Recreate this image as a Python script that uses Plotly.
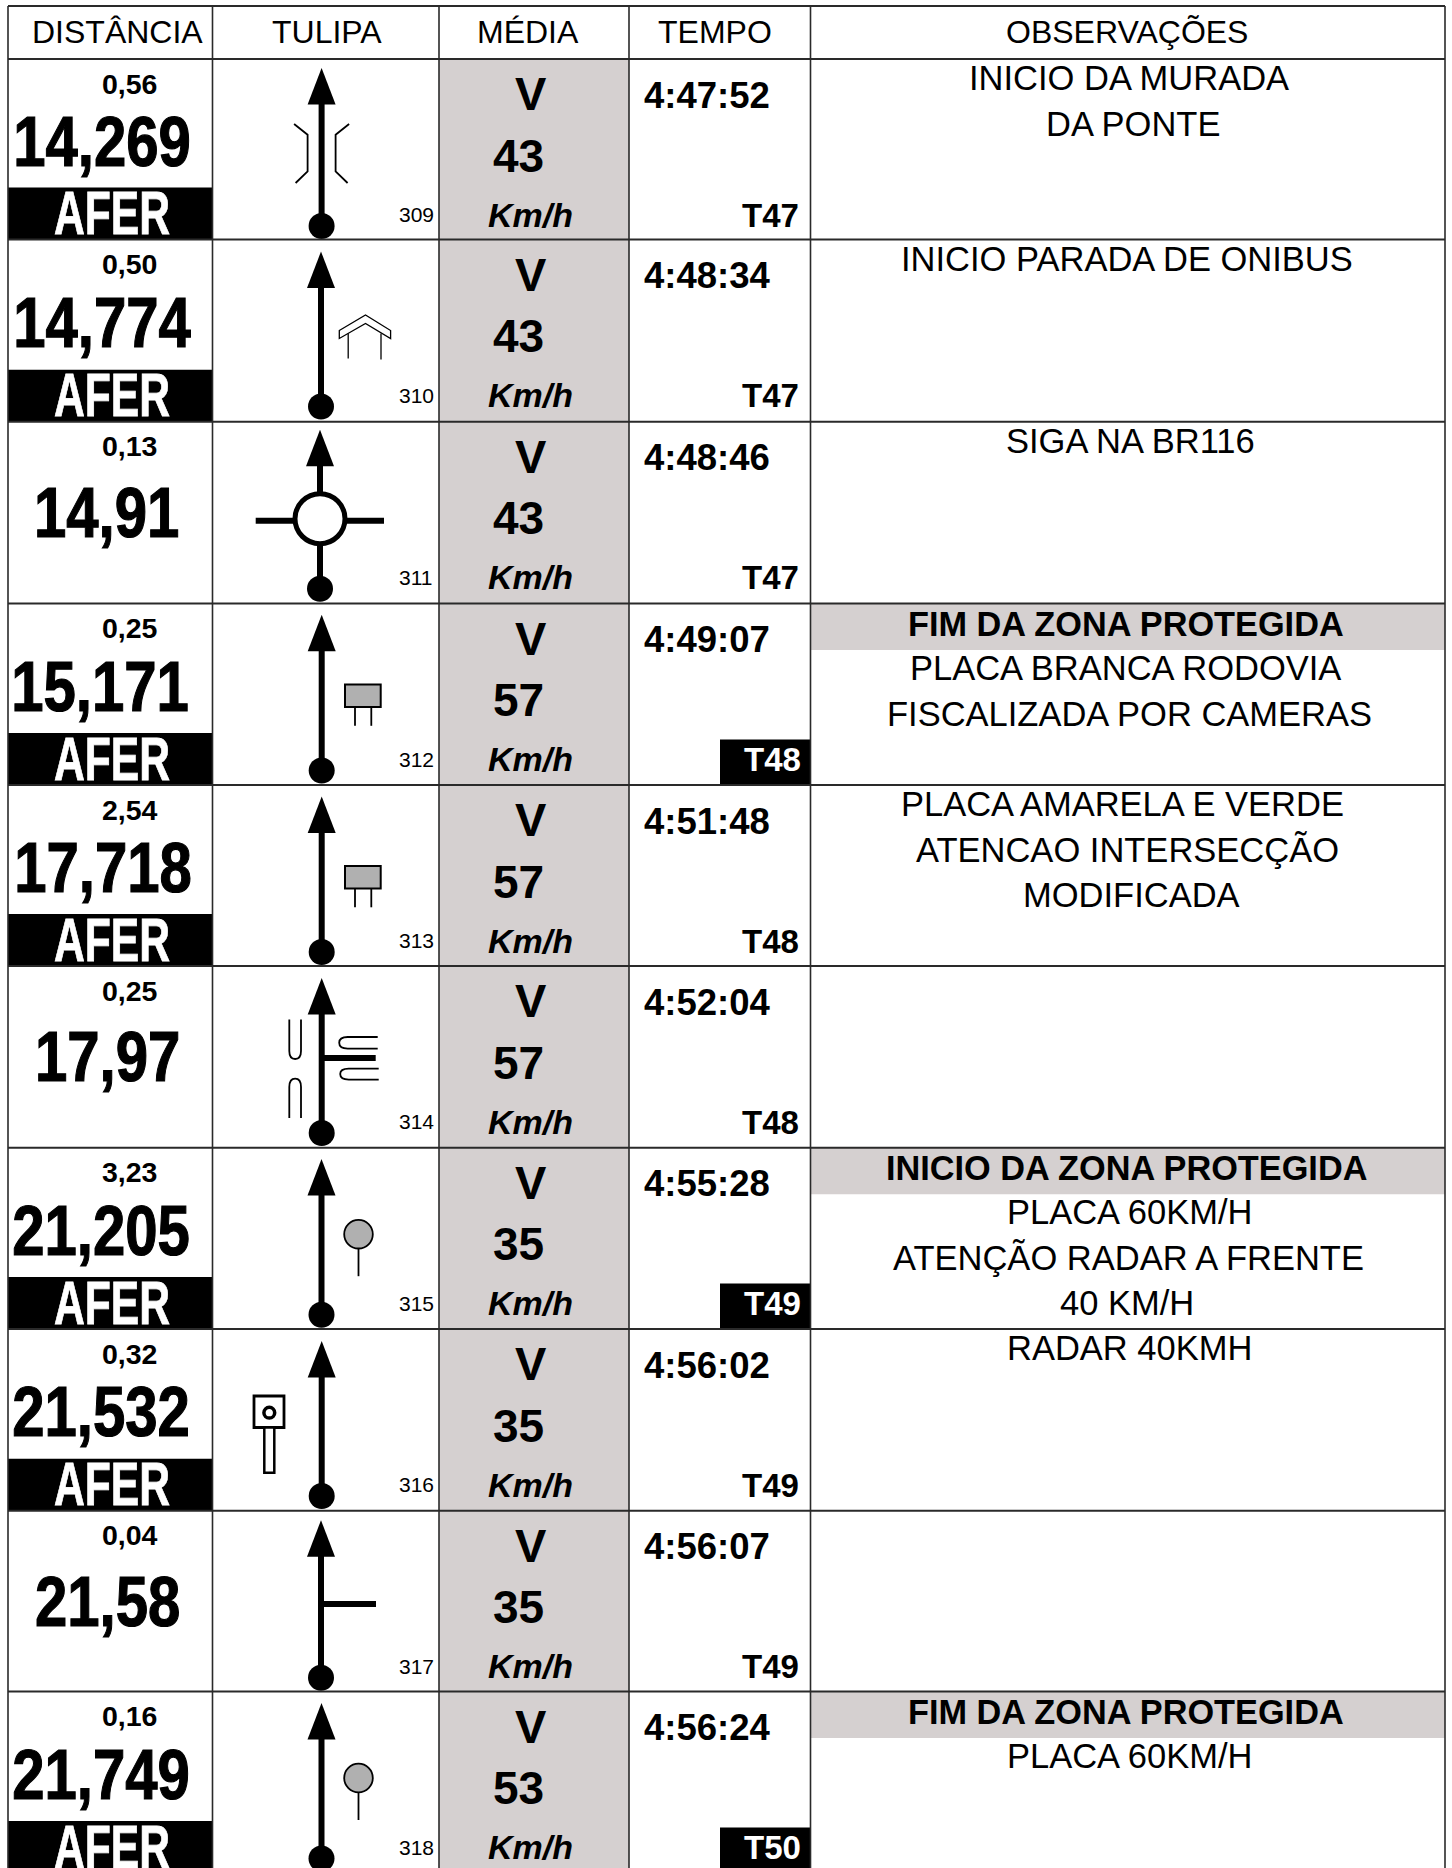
import plotly.graph_objects as go

# ---------- data ----------
HEADERS = ["DISTÂNCIA", "TULIPA", "MÉDIA", "TEMPO", "OBSERVAÇÕES"]
PARTIALS = ["0,56", "0,50", "0,13", "0,25", "2,54", "0,25", "3,23", "0,32", "0,04", "0,16"]
TOTALS = ["14,269", "14,774", "14,91", "15,171", "17,718", "17,97", "21,205", "21,532", "21,58", "21,749"]
AFER = [True, True, False, True, True, False, True, True, False, True]
TULIP_IDS = ["309", "310", "311", "312", "313", "314", "315", "316", "317", "318"]
TULIP_KINDS = ["bridge", "house", "roundabout", "plate", "plate", "turns", "sign", "radar", "branch", "sign"]
SPEEDS = ["43", "43", "43", "57", "57", "57", "35", "35", "35", "53"]
TIMES = ["4:47:52", "4:48:34", "4:48:46", "4:49:07", "4:51:48", "4:52:04", "4:55:28", "4:56:02", "4:56:07", "4:56:24"]
TRECHOS = ["T47", "T47", "T47", "T48", "T48", "T48", "T49", "T49", "T49", "T50"]
TRECHO_NEW = [False, False, False, True, False, False, True, False, False, True]
BANNERS = [None, None, None, "FIM DA ZONA PROTEGIDA", None, None, "INICIO DA ZONA PROTEGIDA", None, None, "FIM DA ZONA PROTEGIDA"]
OBS = [
    ["INICIO DA MURADA", "DA PONTE"],
    ["INICIO PARADA DE ONIBUS"],
    ["SIGA NA BR116"],
    ["PLACA BRANCA RODOVIA", "FISCALIZADA POR CAMERAS"],
    ["PLACA AMARELA E VERDE", "ATENCAO INTERSECÇÃO", "MODIFICADA"],
    [],
    ["PLACA 60KM/H", "ATENÇÃO RADAR A FRENTE", "40 KM/H"],
    ["RADAR 40KMH"],
    [],
    ["PLACA 60KM/H"],
]

# ---------- layout ----------
W, H = 1452, 1868
ROW_Y = [59, 239.5, 421.7, 603.5, 785, 966, 1147.7, 1329, 1510.7, 1691.5, 1873]
COL_X = [8, 212.5, 439, 629, 810.5, 1445]
TOP = 6
GREY = "#d5d0d0"
SIGN = "#b0b0b0"
LINE = "#2a2a2a"
SANS = "Liberation Sans"
MAIN_X = [321.6, 321, 320, 321.7, 321.7, 321.7, 321.5, 321.7, 321, 321.5]
TIP = [9, 12, 8, 11.3, 11.5, 12, 11.3, 12, 9.5, 11.5]
HEADER_X = [117, 327.4, 528, 714.7, 1127]
TOTAL_X = [102, 102, 106, 100, 103, 107, 101, 101, 107, 101]
OBS_X = [[1129, 1133], [1127], [1130], [1125, 1129], [1122, 1127, 1131], [], [1129, 1128, 1127], [1129], [], [1129]]
TOTAL_SIZE = 70
AFER_SIZE = 61

shapes, notes = [], []


def text(x, y, s, size, bold=False, italic=False, color="#000", anchor="center", family=SANS):
    if bold:
        s = f"<b>{s}</b>"
    if italic:
        s = f"<i>{s}</i>"
    notes.append(dict(x=x, y=y, text=s, showarrow=False, xref="x", yref="y", xanchor=anchor, yanchor="middle",
                      borderpad=0, font=dict(family=family, size=size, color=color)))


def rect(x0, y0, x1, y1, fill=None, lw=0, color="#000"):
    shapes.append(dict(type="rect", xref="x", yref="y", x0=x0, y0=y0, x1=x1, y1=y1,
                       fillcolor=fill or "rgba(0,0,0,0)", line=dict(width=lw, color=color)))


def seg(x0, y0, x1, y1, lw, color="#000"):
    shapes.append(dict(type="line", xref="x", yref="y", x0=x0, y0=y0, x1=x1, y1=y1, line=dict(width=lw, color=color)))


def circle(cx, cy, r, fill="#000", lw=0):
    shapes.append(dict(type="circle", xref="x", yref="y", x0=cx - r, y0=cy - r, x1=cx + r, y1=cy + r,
                       fillcolor=fill, line=dict(width=lw, color="#000")))


def path(d, lw=0, fill=None):
    shapes.append(dict(type="path", xref="x", yref="y", path=d, fillcolor=fill or "rgba(0,0,0,0)",
                       line=dict(width=lw, color="#000")))


def poly(pts, close=False):
    return "M" + " L".join(f"{a:.1f},{b:.1f}" for a, b in pts) + (" Z" if close else "")


def tulip(kind, x, t):
    """Road-book pictogram: x = main stem, t = top of the row."""
    if kind == "bridge":
        for sgn in (-1, 1):
            path(poly([(x + sgn * 27.5, t + 65), (x + sgn * 14, t + 75.7), (x + sgn * 14, t + 112.4), (x + sgn * 26, t + 124)]), 1.8)
    elif kind == "house":
        path(poly([(x + 18.3, t + 91), (x + 44.5, t + 75.5), (x + 69.6, t + 91), (x + 69.6, t + 99), (x + 44.5, t + 84), (x + 18.3, t + 99)], True), 1.3, "#fff")
        seg(x + 27.2, t + 94, x + 27.2, t + 119, 1.3)
        seg(x + 60, t + 94, x + 60, t + 120, 1.3)
    elif kind == "plate":
        rect(x + 23.3, t + 81, x + 59, t + 103.6, SIGN, 2)
        seg(x + 33.3, t + 103.6, x + 33.3, t + 122.3, 1.8)
        seg(x + 49.6, t + 103.6, x + 49.6, t + 122.3, 1.8)
    elif kind == "sign":
        seg(x + 37, t + 100, x + 37, t + 128.5, 1.8)
        circle(x + 37, t + 86.5, 14.3, SIGN, 1.8)
    elif kind == "radar":
        rect(x - 67.7, t + 67, x - 37.7, t + 98.5, "#fff", 2.8)
        rect(x - 57.4, t + 98.5, x - 47.4, t + 143.7, "#fff", 2.5)
        circle(x - 52.4, t + 83.7, 5.4, "#fff", 3.5)
    elif kind == "branch":
        seg(x, t + 93.3, x + 55, t + 93.3, 6)
    elif kind == "turns":
        seg(x, t + 92, x + 54, t + 92, 6)
        l, r = x - 32.4, x - 20.7
        m = (l + r) / 2
        path(f"M{l},{t + 53.6} L{l},{t + 85} Q{l},{t + 93} {m},{t + 93} Q{r},{t + 93} {r},{t + 85} L{r},{t + 53.6}", 1.8)
        path(f"M{l},{t + 152} L{l},{t + 121} Q{l},{t + 112.6} {m},{t + 112.6} Q{r},{t + 112.6} {r},{t + 121} L{r},{t + 152}", 1.8)
        a, b = t + 71, t + 82.6
        mid = (a + b) / 2
        path(f"M{x + 56},{a} L{x + 26},{a} Q{x + 17.5},{a} {x + 17.5},{mid} Q{x + 17.5},{b} {x + 26},{b} L{x + 56},{b}", 1.8)
        a, b = t + 102.6, t + 113.6
        mid = (a + b) / 2
        path(f"M{x + 57},{a} L{x + 27},{a} Q{x + 18.5},{a} {x + 18.5},{mid} Q{x + 18.5},{b} {x + 27},{b} L{x + 57},{b}", 1.8)


# column of the average speed
rect(COL_X[2], ROW_Y[0], COL_X[3], H + 10, GREY)

# rows
for i in range(len(PARTIALS)):
    t, b = ROW_Y[i], ROW_Y[i + 1]
    x = MAIN_X[i]

    if AFER[i]:
        rect(COL_X[0], b - 52, COL_X[1], b, "#000")
        text(112, b - 26.5, "AFER", AFER_SIZE, bold=True, color="#fff")
    if TRECHO_NEW[i]:
        rect(720, b - 45.5, COL_X[4], b, "#000")
    if BANNERS[i]:
        rect(COL_X[4], t, COL_X[5], t + 46.5, GREY)

    text(129.5, t + 24.5, PARTIALS[i], 28.5, bold=True)
    text(TOTAL_X[i], t + (83 if AFER[i] else 91), TOTALS[i], TOTAL_SIZE, bold=True)

    # tulip
    if TULIP_KINDS[i] == "roundabout":
        seg(255.7, t + 99, 384, t + 99, 6)
    seg(x, t + TIP[i] + 30, x, t + 167, 6)
    path(poly([(x, t + TIP[i]), (x + 14, t + TIP[i] + 36.5), (x - 14, t + TIP[i] + 36.5)], True), 0, "#000")
    circle(x, t + 167, 13)
    if TULIP_KINDS[i] == "roundabout":
        circle(x, t + 97, 25, "#fff", 5)
    tulip(TULIP_KINDS[i], x, t)
    text(398, t + 155.5, TULIP_IDS[i], 21, anchor="left")

    # average
    text(531, t + 34.5, "V", 47, bold=True)
    text(518.5, t + 96.5, SPEEDS[i], 46, bold=True)
    text(530, t + 155.5, "Km/h", 34, bold=True, italic=True)

    # time
    text(707, t + 36, TIMES[i], 36.5, bold=True)
    text(802 if TRECHO_NEW[i] else 800, t + 156, TRECHOS[i], 33, bold=True, color="#fff" if TRECHO_NEW[i] else "#000", anchor="right")

    # remarks
    line = 0
    if BANNERS[i]:
        text(1126, t + 20, BANNERS[i], 34.3, bold=True)
        line = 1
    for s, ox in zip(OBS[i], OBS_X[i]):
        text(ox, t + 19 + 45.5 * line, s, 34.5)
        line += 1

# grid
seg(COL_X[0], TOP, COL_X[5], TOP, 2, LINE)
for y in ROW_Y[:-1]:
    seg(COL_X[0], y, COL_X[5], y, 2, LINE)
for x in COL_X:
    seg(x, TOP, x, H + 10, 1.6, LINE)

for s, x in zip(HEADERS, HEADER_X):
    text(x, 31.5, s, 32)

fig = go.Figure()
fig.update_layout(
    width=W, height=H, margin=dict(l=0, r=0, t=0, b=0),
    paper_bgcolor="#fff", plot_bgcolor="#fff", showlegend=False,
    xaxis=dict(range=[0, W], visible=False, fixedrange=True),
    yaxis=dict(range=[H, 0], visible=False, fixedrange=True),
    shapes=shapes, annotations=notes,
)

# no condensed face is installed: squeeze the big distance figures sideways, keeping them real text
squeeze = """
document.body.style.margin='0';document.body.style.overflow='hidden';
var scale={'%d':[0.83,1.2,'#000'],'%d':[0.70,0.8,'#fff']};
document.querySelectorAll('.annotation-text').forEach(function(e){
  var fs=Math.round(parseFloat(e.style.fontSize)); var m=scale[String(fs)]; if(!m)return;
  var bb=e.getBBox(); var c=bb.x+bb.width/2;
  e.setAttribute('transform','translate('+(c*(1-m[0]))+',0) scale('+m[0]+',1)');
  e.style.stroke=m[2]; e.style.strokeWidth=m[1]+'px';
});
""" % (TOTAL_SIZE, AFER_SIZE)
fig.write_html("out.html", config=dict(displayModeBar=False), post_script=squeeze)
